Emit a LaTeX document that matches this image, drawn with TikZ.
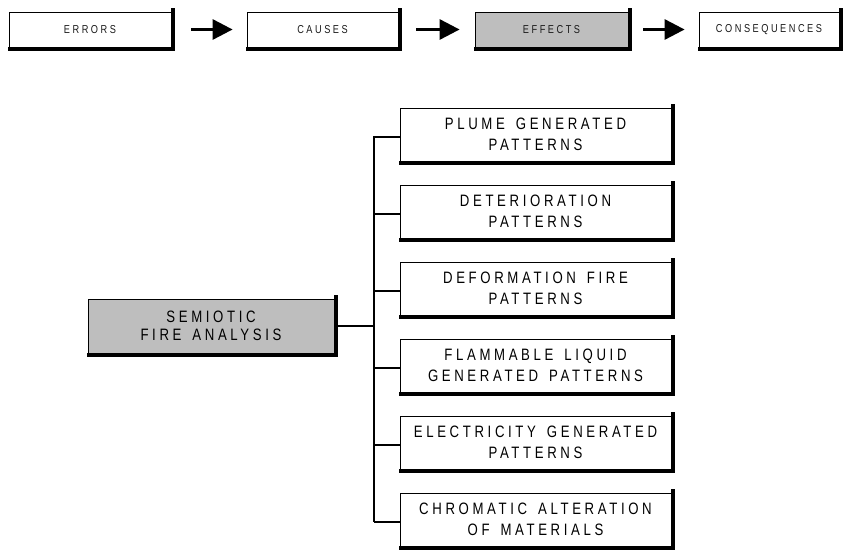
\documentclass[tikz,border=0pt]{standalone}
\usepackage{fontspec}
\setmainfont{Liberation Sans}
\newfontfamily\spacedfont[LetterSpace=22,FakeStretch=0.8,WordSpace=1.5]{Liberation Sans}
\usetikzlibrary{arrows.meta}
\definecolor{boxgray}{RGB}{190,190,190}
\begin{document}
\begin{tikzpicture}[x=1pt,y=-1pt,
  topbox/.style={draw=black,line width=0.8pt,fill=white,minimum height=35pt,inner sep=0pt,
    font=\spacedfont\fontsize{11.5}{13}\selectfont,text=black!90},
  branchbox/.style={draw=black,line width=0.8pt,fill=white,minimum width=271pt,minimum height=53pt,
    inner sep=0pt,align=center,font=\spacedfont\fontsize{16.5}{21}\selectfont,text=black},
  rootbox/.style={draw=black,line width=0.8pt,fill=boxgray,minimum width=246pt,minimum height=54pt,
    inner sep=0pt,align=center,font=\spacedfont\fontsize{16.5}{18.5}\selectfont,text=black},
  flowarrow/.style={line width=3pt,-{Triangle[length=20pt,width=20pt]}},
  tree/.style={line width=1.6pt}]
\useasboundingbox (0,0) rectangle (843,549);
% top row
\node[topbox,minimum width=162pt] (errors) at (90,29.5) {ERRORS};
\node[topbox,minimum width=151pt] (causes) at (322.5,29.5) {CAUSES};
\node[topbox,minimum width=153pt,fill=boxgray] (effects) at (551.5,29.5) {EFFECTS};
\node[topbox,minimum width=140pt] (conseq) at (769,29.5) {CONSEQUENCES};
% branch boxes
\node[branchbox] (b1) at (535.5,134.5) {PLUME GENERATED\\PATTERNS};
\node[branchbox] (b2) at (535.5,211.5) {DETERIORATION\\PATTERNS};
\node[branchbox] (b3) at (535.5,288.5) {DEFORMATION FIRE\\PATTERNS};
\node[branchbox] (b4) at (535.5,365.5) {FLAMMABLE LIQUID\\GENERATED PATTERNS};
\node[branchbox] (b5) at (535.5,442.5) {ELECTRICITY GENERATED\\PATTERNS};
\node[branchbox] (b6) at (535.5,519.5) {CHROMATIC ALTERATION\\OF MATERIALS};
\node[rootbox] (root) at (211,326) {SEMIOTIC\\FIRE ANALYSIS};
% shadows (thick right and bottom edges)
\foreach \n in {errors,causes,effects,conseq,b1,b2,b3,b4,b5,b6,root}{
  \draw[line width=4pt,line cap=rect]
    ([xshift=2pt,yshift=1.5pt]\n.north east) -- ([xshift=2pt,yshift=-2pt]\n.south east)
    -- ([xshift=1pt,yshift=-2pt]\n.south west);
}
% arrows
\draw[flowarrow] ([xshift=20pt]errors.east) -- ([xshift=-14pt]causes.west);
\draw[flowarrow] ([xshift=18pt]causes.east) -- ([xshift=-15pt]effects.west);
\draw[flowarrow] ([xshift=15pt]effects.east) -- ([xshift=-14pt]conseq.west);
% tree
\coordinate (trunk) at (374,326);
\draw[tree] (root.east) ++(4pt,0) -- (trunk);
\draw[tree] (374,136) -- (374,522);
\foreach \n in {b1,b2,b3,b4,b5,b6}{
  \draw[tree] (374,0 |- \n.west) ++(0,2.5) -- ([yshift=-2.5pt]\n.west);
}
\end{tikzpicture}
\end{document}
